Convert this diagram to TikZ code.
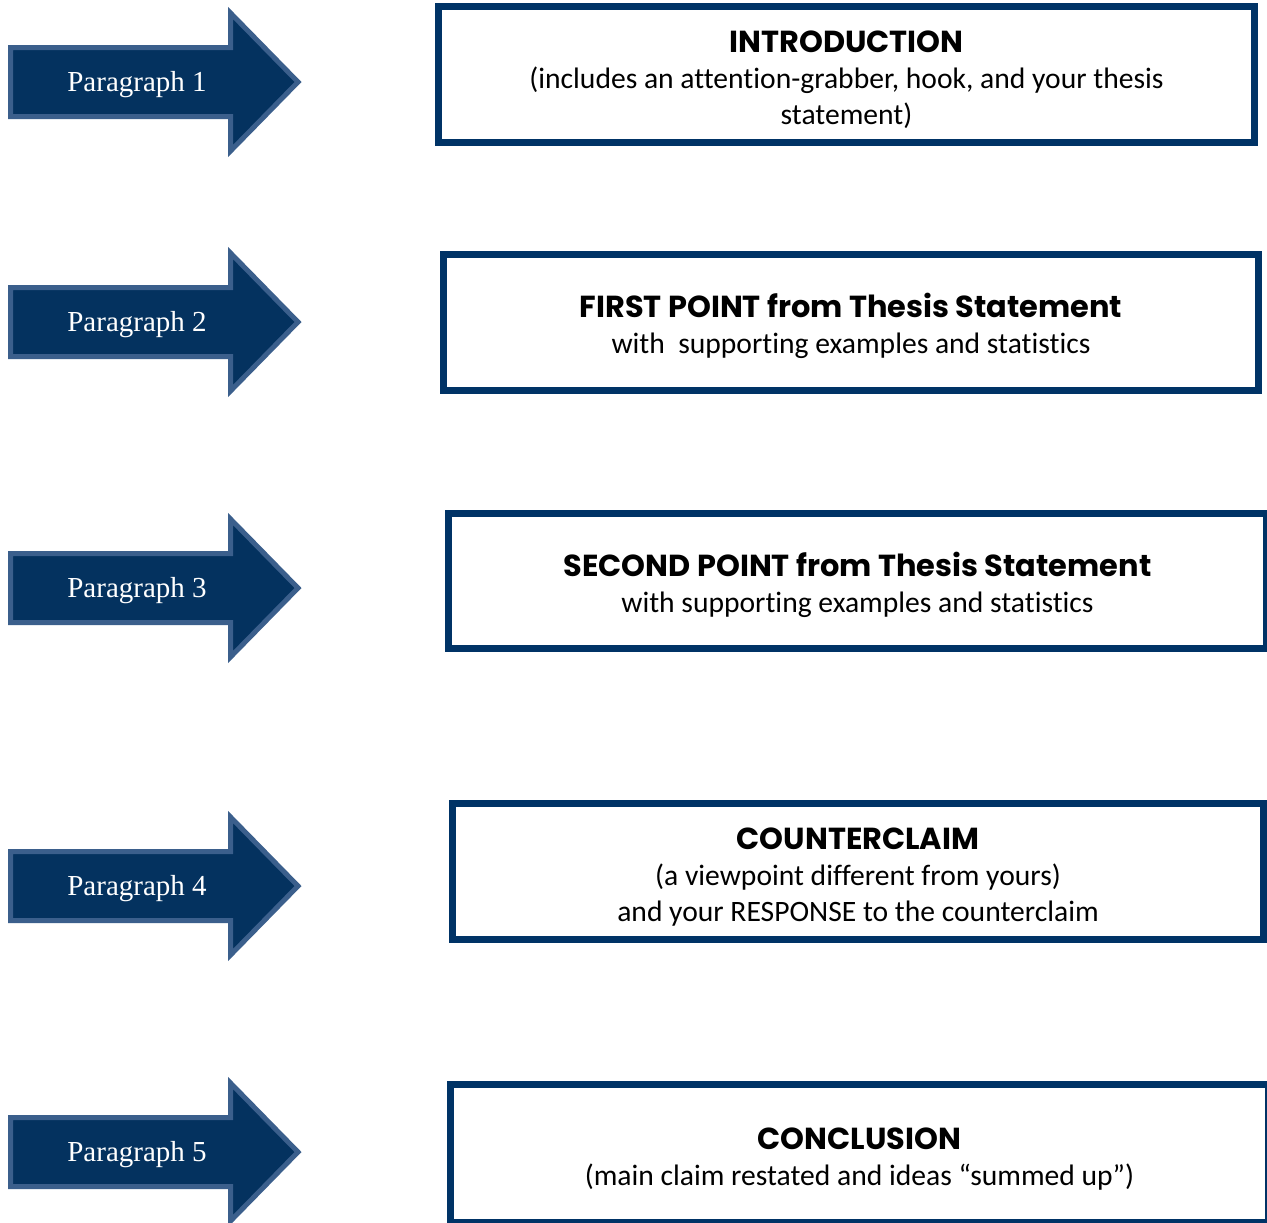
\documentclass[tikz,border=0pt]{standalone}
\usepackage{fontspec}
\setmainfont{Liberation Serif}
\newfontfamily\bodyfont{Carlito}[Ligatures=CommonOff]
\newfontfamily\headfont{Poppins}
\usepackage{xcolor}
\definecolor{navyfill}{HTML}{04325F}
\definecolor{navyedge}{HTML}{3B5F8C}
\definecolor{boxedge}{HTML}{003366}

\tikzset{
  paralabel/.style={text=white, inner sep=0pt, font=\fontsize{14.5}{16}\selectfont},
  topicbox/.style={draw=boxedge, line width=3.5pt, fill=white, inner sep=0pt,
    align=center, font=\bodyfont\fontsize{14.8}{18}\selectfont},
}
\newcommand{\boxhead}[1]{{\rule{0pt}{16pt}\headfont\bfseries\fontsize{15.2}{18}\selectfont #1}}

\begin{document}
\begin{tikzpicture}[x=0.5pt,y=-0.5pt]
				\useasboundingbox (0,0) rectangle (1267,1222);
				
				% Draw the arrows on the left
				\foreach \i/\cy in {1/82, 2/322, 3/588, 4/886, 5/1152}{
				\draw[navyedge, fill=navyfill, line width=2.5pt, line join=miter]
				(10.5,\cy-34.5) -- (230.5,\cy-34.5) -- (230.5,\cy-69) -- (298,\cy)
				-- (230.5,\cy+69) -- (230.5,\cy+34.5) -- (10.5,\cy+34.5) -- cycle;
				\node[paralabel] (p\i) at (137,\cy+3) {Paragraph \i};
				}
				
				% Draw the boxes with the paragraph contents
				\node[topicbox, minimum width=408pt, minimum height=68pt] (b1) at (846.5,74.5)
				{\boxhead{INTRODUCTION}\\(includes an attention-grabber, hook, and your thesis\\statement)};
				\node[topicbox, minimum width=407.5pt, minimum height=68pt] (b2) at (851,322.5)
				{\boxhead{FIRST POINT from Thesis Statement}\\with~ supporting examples and statistics};
				\node[topicbox, minimum width=409pt, minimum height=67.5pt] (b3) at (857.5,581)
				{\boxhead{SECOND POINT from Thesis Statement}\\with supporting examples and statistics};
				\node[topicbox, minimum width=405.5pt, minimum height=68pt] (b4) at (858,871.5)
				{\boxhead{COUNTERCLAIM}\\(a viewpoint different from yours)\\and your RESPONSE to the counterclaim};
				\node[topicbox, minimum width=409pt, minimum height=69pt] (b5) at (859.5,1153.5)
				{\boxhead{CONCLUSION}\\(main claim restated and ideas “summed up”)};
			\end{tikzpicture}
\end{document}
